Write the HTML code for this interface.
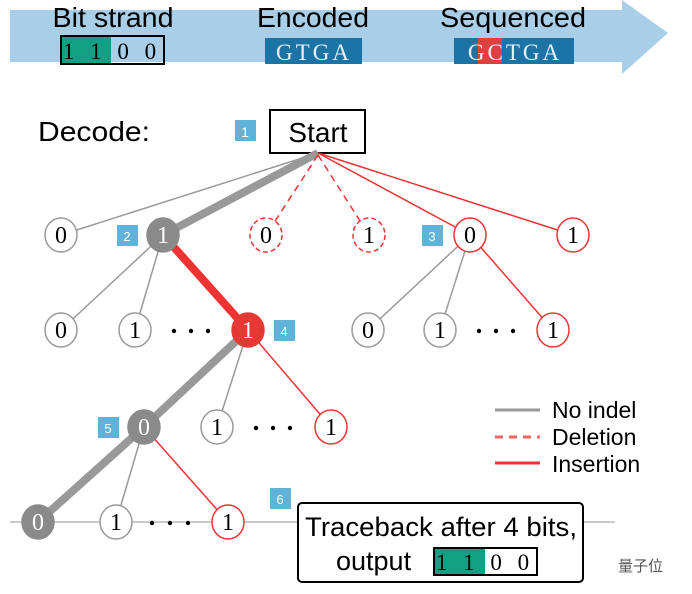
<!DOCTYPE html>
<html><head><meta charset="utf-8"><style>
html,body{margin:0;padding:0;background:#fff;}
svg{display:block;}
text{font-family:"Liberation Sans",sans-serif;}
text.s,.s text{font-family:"Liberation Serif",serif;}
</style></head><body>
<svg width="692" height="594" viewBox="0 0 692 594">
<polygon points="10,10 622,10 622,0 668,33 622,74 622,62 10,62" fill="#a9cfe8"/>
<text x="113" y="27" font-size="28" text-anchor="middle" textLength="121" lengthAdjust="spacingAndGlyphs">Bit strand</text>
<text x="313" y="27" font-size="28" text-anchor="middle" textLength="112" lengthAdjust="spacingAndGlyphs">Encoded</text>
<text x="513" y="27" font-size="28" text-anchor="middle" textLength="146" lengthAdjust="spacingAndGlyphs">Sequenced</text>
<rect x="61" y="36" width="50" height="28" fill="#12a084"/>
<rect x="61" y="36" width="103" height="28" fill="none" stroke="#000" stroke-width="2"/>
<text class="s" x="112" y="59" font-size="23" text-anchor="middle" letter-spacing="5">1 1 0 0</text>
<rect x="265" y="38" width="97" height="26" fill="#1c74a6"/>
<text class="s" x="314" y="60" font-size="23" text-anchor="middle" fill="#e6f0f8" letter-spacing="3">GTGA</text>
<rect x="454" y="38" width="120" height="26" fill="#1c74a6"/>
<rect x="478" y="38" width="24" height="26" fill="#e24040"/>
<text class="s" x="515" y="60" font-size="23" text-anchor="middle" fill="#e6f0f8" letter-spacing="3">GCTGA</text>

<text x="38" y="141" font-size="28" textLength="112" lengthAdjust="spacingAndGlyphs">Decode:</text>
<rect x="235" y="120" width="21" height="21" fill="#5fb3d8"/><text x="245" y="137" font-size="14" fill="#fff" text-anchor="middle">1</text>
<rect x="270" y="110" width="95" height="43" fill="#fff" stroke="#000" stroke-width="2"/>
<text x="318" y="142" font-size="28" text-anchor="middle">Start</text>

<g fill="none">
<line x1="318" y1="153" x2="61" y2="235" stroke="#999" stroke-width="1.5"/>
<line x1="318" y1="153" x2="163" y2="235" stroke="#999" stroke-width="8"/>
<line x1="318" y1="155" x2="266" y2="235" stroke="#e33" stroke-width="1.5" stroke-dasharray="7,5"/>
<line x1="318" y1="155" x2="369" y2="235" stroke="#e33" stroke-width="1.5" stroke-dasharray="7,5"/>
<line x1="318" y1="153" x2="470" y2="235" stroke="#e33" stroke-width="1.5"/>
<line x1="318" y1="153" x2="573" y2="235" stroke="#e33" stroke-width="1.5"/>
<line x1="163" y1="235" x2="61" y2="330" stroke="#999" stroke-width="1.5"/>
<line x1="163" y1="235" x2="135" y2="330" stroke="#999" stroke-width="1.5"/>
<line x1="163" y1="235" x2="248" y2="330" stroke="#e33" stroke-width="8"/>
<line x1="470" y1="235" x2="368" y2="330" stroke="#999" stroke-width="1.5"/>
<line x1="470" y1="235" x2="440" y2="330" stroke="#999" stroke-width="1.5"/>
<line x1="470" y1="235" x2="553" y2="330" stroke="#e33" stroke-width="1.5"/>
<line x1="248" y1="330" x2="144" y2="427" stroke="#999" stroke-width="8"/>
<line x1="248" y1="330" x2="217" y2="427" stroke="#999" stroke-width="1.5"/>
<line x1="248" y1="330" x2="331" y2="427" stroke="#e33" stroke-width="1.5"/>
<line x1="144" y1="427" x2="38" y2="522" stroke="#999" stroke-width="8"/>
<line x1="144" y1="427" x2="116" y2="522" stroke="#999" stroke-width="1.5"/>
<line x1="144" y1="427" x2="228" y2="522" stroke="#e33" stroke-width="1.5"/>
<line x1="10" y1="522" x2="615" y2="522" stroke="#aaa" stroke-width="1.2"/>
</g>

<g class="s" font-size="24" text-anchor="middle">
<g stroke-width="1.5">
<ellipse cx="61" cy="235" rx="16" ry="17" fill="#fff" stroke="#999"/><text x="61" y="243">0</text>
<ellipse cx="163" cy="235" rx="16" ry="17" fill="#8a8a8a" stroke="#8a8a8a"/><text x="163" y="243" fill="#fff">1</text>
<ellipse cx="266" cy="235" rx="16" ry="17" fill="#fff" stroke="#e33" stroke-dasharray="5,3"/><text x="266" y="243">0</text>
<ellipse cx="369" cy="235" rx="16" ry="17" fill="#fff" stroke="#e33" stroke-dasharray="5,3"/><text x="369" y="243">1</text>
<ellipse cx="470" cy="235" rx="16" ry="17" fill="#fff" stroke="#e33"/><text x="470" y="243">0</text>
<ellipse cx="573" cy="235" rx="16" ry="17" fill="#fff" stroke="#e33"/><text x="573" y="243">1</text>

<ellipse cx="61" cy="330" rx="16" ry="17" fill="#fff" stroke="#999"/><text x="61" y="338">0</text>
<ellipse cx="135" cy="330" rx="16" ry="17" fill="#fff" stroke="#999"/><text x="135" y="338">1</text>
<ellipse cx="248" cy="330" rx="16" ry="17" fill="#e53a33" stroke="#e53a33"/><text x="248" y="338" fill="#fff">1</text>
<ellipse cx="368" cy="330" rx="16" ry="17" fill="#fff" stroke="#999"/><text x="368" y="338">0</text>
<ellipse cx="440" cy="330" rx="16" ry="17" fill="#fff" stroke="#999"/><text x="440" y="338">1</text>
<ellipse cx="553" cy="330" rx="16" ry="17" fill="#fff" stroke="#e33"/><text x="553" y="338">1</text>

<ellipse cx="144" cy="427" rx="16" ry="17" fill="#8a8a8a" stroke="#8a8a8a"/><text x="144" y="435" fill="#fff">0</text>
<ellipse cx="217" cy="427" rx="16" ry="17" fill="#fff" stroke="#999"/><text x="217" y="435">1</text>
<ellipse cx="331" cy="427" rx="16" ry="17" fill="#fff" stroke="#e33"/><text x="331" y="435">1</text>

<ellipse cx="38" cy="522" rx="16" ry="17" fill="#8a8a8a" stroke="#8a8a8a"/><text x="38" y="530" fill="#fff">0</text>
<ellipse cx="116" cy="522" rx="16" ry="17" fill="#fff" stroke="#999"/><text x="116" y="530">1</text>
<ellipse cx="228" cy="522" rx="16" ry="17" fill="#fff" stroke="#e33"/><text x="228" y="530">1</text>
</g>
</g>
<g fill="#000">
<circle cx="174" cy="331" r="2.2"/><circle cx="191" cy="331" r="2.2"/><circle cx="208" cy="331" r="2.2"/>
<circle cx="479" cy="331" r="2.2"/><circle cx="496" cy="331" r="2.2"/><circle cx="513" cy="331" r="2.2"/>
<circle cx="256" cy="428" r="2.2"/><circle cx="273" cy="428" r="2.2"/><circle cx="290" cy="428" r="2.2"/>
<circle cx="152" cy="523" r="2.2"/><circle cx="170" cy="523" r="2.2"/><circle cx="188" cy="523" r="2.2"/>
</g>
<g font-size="13" fill="#fff" text-anchor="middle">
<rect x="117" y="225" width="21" height="21" fill="#5fb3d8"/><text x="127" y="241">2</text>
<rect x="422" y="225" width="21" height="21" fill="#5fb3d8"/><text x="432" y="241">3</text>
<rect x="274" y="320" width="21" height="21" fill="#5fb3d8"/><text x="284" y="336">4</text>
<rect x="98" y="417" width="21" height="21" fill="#5fb3d8"/><text x="108" y="433">5</text>
<rect x="270" y="488" width="21" height="21" fill="#5fb3d8"/><text x="280" y="504">6</text>
</g>

<line x1="495" y1="410" x2="540" y2="410" stroke="#999" stroke-width="3"/>
<line x1="495" y1="437" x2="540" y2="437" stroke="#e66" stroke-width="3" stroke-dasharray="8,6"/>
<line x1="495" y1="463" x2="540" y2="463" stroke="#e33" stroke-width="3"/>
<text x="552" y="418" font-size="23">No indel</text>
<text x="552" y="445" font-size="23">Deletion</text>
<text x="552" y="472" font-size="23">Insertion</text>

<rect x="298" y="503" width="285" height="79" rx="4" fill="#fff" stroke="#000" stroke-width="2"/>
<text x="441" y="536" font-size="27" text-anchor="middle" textLength="272" lengthAdjust="spacingAndGlyphs">Traceback after 4 bits,</text>
<text x="336" y="570" font-size="27">output</text>
<rect x="434" y="548" width="51" height="27" fill="#12a084"/>
<rect x="434" y="548" width="103" height="27" fill="none" stroke="#000" stroke-width="2"/>
<text class="s" x="485" y="570" font-size="23" text-anchor="middle" letter-spacing="5">1 1 0 0</text>
<text x="618" y="571" font-size="15" fill="#555" style="font-family:'Liberation Sans','Noto Sans CJK SC',sans-serif">量子位</text>
</svg>
</body></html>
